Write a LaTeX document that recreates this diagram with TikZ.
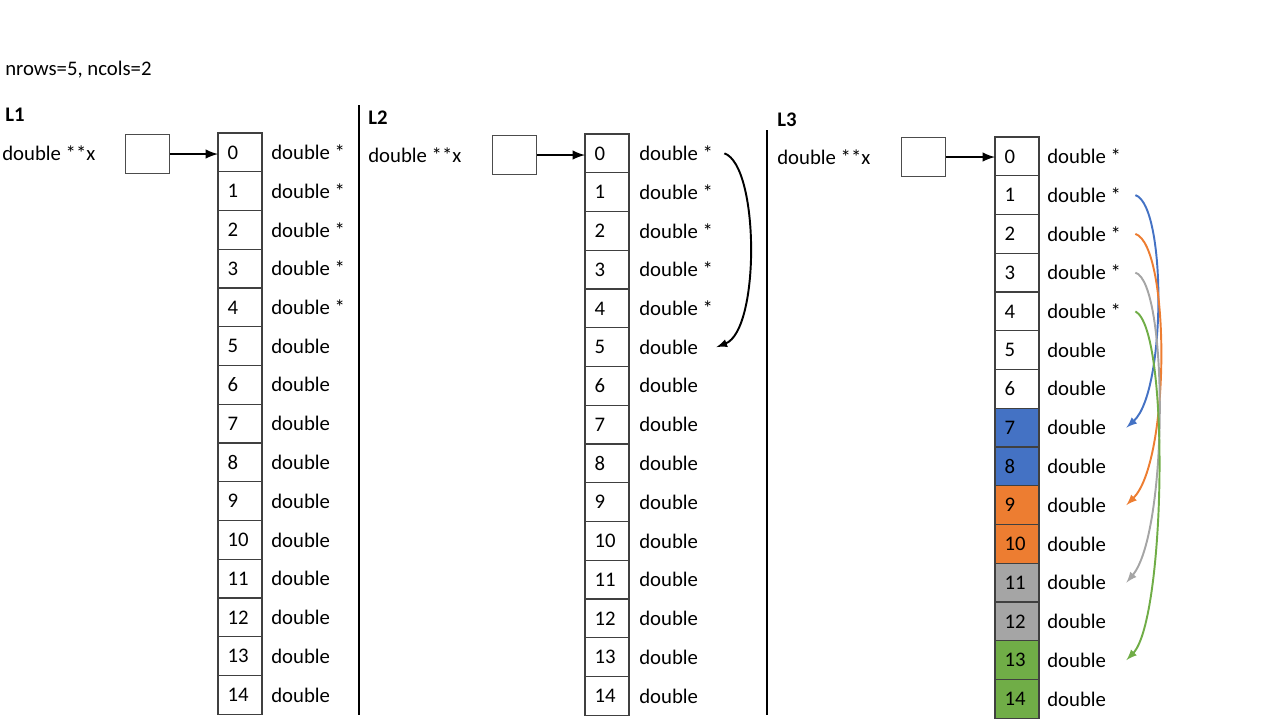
\documentclass[tikz,border=0pt]{standalone}
\usepackage{fontspec}
\setmainfont{Carlito}
\usepackage{xcolor}
\usepackage{tikz}
\usetikzlibrary{arrows, positioning}

\definecolor{cellblue}{HTML}{4472C4}
\definecolor{cellorange}{HTML}{ED7D31}
\definecolor{cellgray}{HTML}{A5A5A5}
\definecolor{cellgreen}{HTML}{70AD47}

\begin{document}
\begin{tikzpicture}[
    x=0.02cm, y=-0.02cm,
    every node/.style={font=\fontsize{11.8}{14}\selectfont},
    cell/.style={draw=black!75, line width=0.6pt, rectangle, minimum width=0.88cm, minimum height=0.775cm, text width=0.5cm, inner xsep=0.19cm, inner ysep=0pt, outer sep=0pt, align=left, anchor=north west},
    varbox/.style={draw=black!70, line width=0.6pt, rectangle, minimum width=0.88cm, minimum height=0.78cm, anchor=north west},
    txt/.style={inner sep=0pt, anchor=west},
    title/.style={inner sep=0pt, anchor=west, font=\fontsize{11.8}{14}\selectfont\bfseries},
    ptr/.style={-latex, line width=1.4pt},
    link/.style={-latex, line width=1.1pt},
    divider/.style={line width=0.6pt}
]
\useasboundingbox (0,0) rectangle (1280,720);

\node[txt] (params) at (5,70) {nrows=5, ncols=2};

% L1
\node[title] (l1) at (5,115) {L1};
\node[txt] (vara) at (2,153) {double **x};
\node[varbox] (xa) at (125,134) {};
\foreach \i in {0,...,14}
    \node[cell] (a\i) at (218,{133+38.75*\i}) {\i};
\foreach \i in {0,...,4}
    \node[txt, right=0.18cm of a\i] (ta\i) {double *};
\foreach \i in {5,...,14}
    \node[txt, right=0.18cm of a\i] (ta\i) {double};
\draw[ptr] (xa.east) -- (xa.east -| a0.west);

\draw[divider] (359,105) -- (359,715);

% L2
\node[title] (l2) at (368,118) {L2};
\node[txt] (varb) at (368,155) {double **x};
\node[varbox] (xb) at (492,135) {};
\foreach \i in {0,...,14}
    \node[cell] (b\i) at (585,{134+38.75*\i}) {\i};
\foreach \i in {0,...,4}
    \node[txt, right=0.2cm of b\i] (tb\i) {double *};
\foreach \i in {5,...,14}
    \node[txt, right=0.2cm of b\i] (tb\i) {double};
\draw[ptr] (xb.east) -- (xb.east -| b0.west);
\draw[link] ([xshift=0.22cm]tb0.east) .. controls +(35,12) and +(44,-17) .. ([xshift=0.36cm]tb5.east);

\draw[divider] (767,130) -- (767,715);

% L3
\node[title] (l3) at (777,120) {L3};
\node[txt] (varc) at (777,157) {double **x};
\node[varbox] (xc) at (901,137) {};
\foreach \i/\fc in {0/white, 1/white, 2/white, 3/white, 4/white, 5/white, 6/white,
                    7/cellblue, 8/cellblue, 9/cellorange, 10/cellorange,
                    11/cellgray, 12/cellgray, 13/cellgreen, 14/cellgreen}
    \node[cell, fill=\fc] (c\i) at (995,{137+38.75*\i}) {\i};
\foreach \i in {0,...,4}
    \node[txt, right=0.16cm of c\i] (tc\i) {double *};
\foreach \i in {5,...,14}
    \node[txt, right=0.16cm of c\i] (tc\i) {double};
\draw[ptr] (xc.east) -- (xc.east -| c0.west);

% row pointers into the data block
\draw[link, cellblue] ([xshift=0.28cm]tc1.east) .. controls +(31,10) and +(40,-36) .. ([xshift=0.4cm]tc7.east);
\draw[link, cellorange] ([xshift=0.28cm]tc2.east) .. controls +(35,12) and +(44,-44) .. ([xshift=0.4cm]tc9.east);
\draw[link, cellgray] ([xshift=0.28cm]tc3.east) .. controls +(33,10) and +(42,-50) .. ([xshift=0.4cm]tc11.east);
\draw[link, cellgreen] ([xshift=0.28cm]tc4.east) .. controls +(35,18) and +(39,-40) .. ([xshift=0.4cm]tc13.east);
\end{tikzpicture}
\end{document}
